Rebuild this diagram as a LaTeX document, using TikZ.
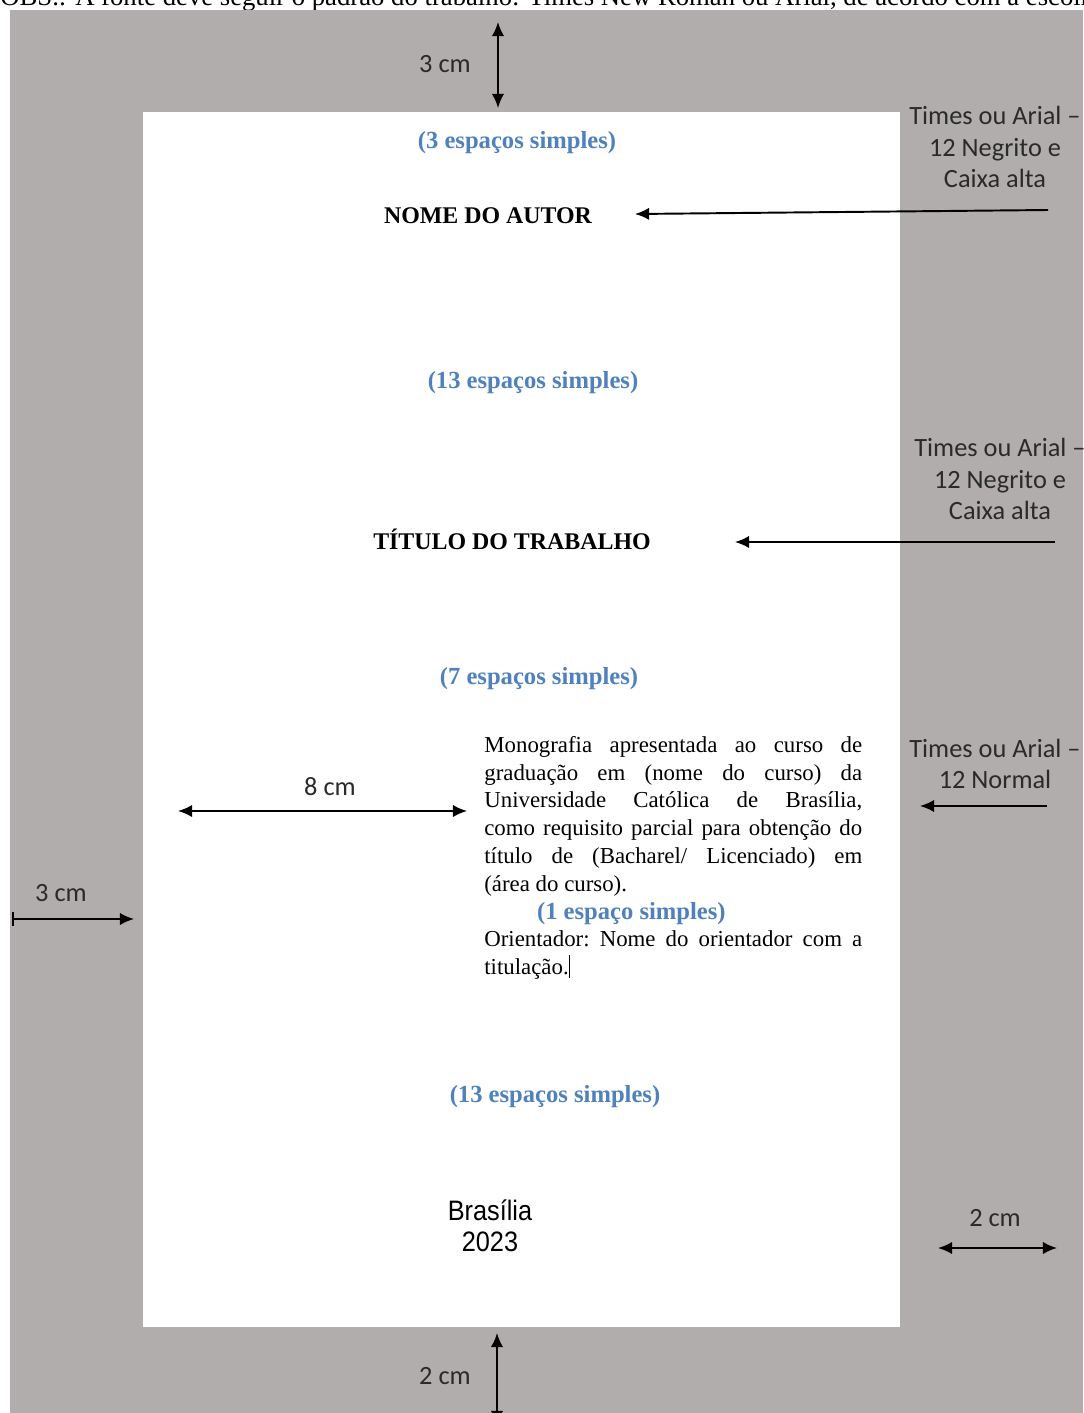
\documentclass[tikz,border=0pt]{standalone}
\usepackage{fontspec}
\setmainfont{Liberation Serif}
\newfontfamily\calfont{Carlito}
\newfontfamily\narrowfont[FakeStretch=0.9]{Liberation Sans}
\usetikzlibrary{arrows.meta}
\definecolor{margem}{HTML}{B0ADAC}
\definecolor{espaco}{HTML}{4F81BD}
\definecolor{rotulo}{HTML}{2A2A2A}
\tikzstyle{medida} = [font=\calfont\fontsize{15}{18.1}\selectfont, text=rotulo, align=center, inner sep=0pt]
\tikzstyle{espacos} = [font=\bfseries\fontsize{14}{15}\selectfont, text=espaco, inner sep=0pt]
\tikzstyle{titulo} = [font=\bfseries\fontsize{13.6}{15}\selectfont, inner sep=0pt]
\tikzstyle{seta} = [line width=1.1pt, -{Latex[length=8pt,width=7pt]}]
\tikzstyle{cota} = [line width=1.1pt, {Latex[length=8pt,width=7pt]}-{Latex[length=8pt,width=7pt]}]
\newcommand{\esp}[1]{\textcolor{espaco}{\fontsize{14}{15.8}\selectfont\textbf{(#1)}}}

\begin{document}
\begin{tikzpicture}[x=0.02cm, y=-0.02cm]
  \useasboundingbox (0,0) rectangle (1083,1413);
  \fill[white] (0,0) rectangle (1083,1413);
  \node[anchor=base west, inner sep=0pt, font=\fontsize{15.2}{16}\selectfont] (obs) at (0,6)
    {OBS.: A fonte deve seguir o padrão do trabalho: Times New Roman ou Arial, de acordo com a escolha};
  \fill[margem] (10,10) rectangle (1083,1413);
  \fill[white] (143,112) rectangle (900,1327);
  % margens
  \coordinate (sup1) at (498,22);
  \coordinate (sup2) at (498,108);
  \draw[cota] (sup1) -- (sup2);
  \node[medida] (msup) at (445,64) {3 cm};
  \coordinate (esq1) at (12,919);
  \coordinate (esq2) at (134,919);
  \draw[line width=1.1pt, {Bar[width=8pt]}-{Latex[length=8pt,width=7pt]}] (esq1) -- (esq2);
  \node[medida] (mesq) at (61,893) {3 cm};
  \coordinate (dir1) at (938,1248);
  \coordinate (dir2) at (1057,1248);
  \draw[cota] (dir1) -- (dir2);
  \node[medida] (mdir) at (995,1218) {2 cm};
  \coordinate (inf1) at (497,1333);
  \coordinate (inf2) at (497,1425);
  \draw[cota] (inf1) -- (inf2);
  \node[medida] (minf) at (445,1376) {2 cm};
  % texto da folha
  \node[espacos] (esp3) at (517,143) {(3 espaços simples)};
  \node[titulo] (autor) at (488,216) {NOME DO AUTOR};
  \node[espacos] (esp13a) at (533,383) {(13 espaços simples)};
  \node[titulo] (trabalho) at (512,539) {TÍTULO DO TRABALHO};
  \node[espacos] (esp7) at (539,679) {(7 espaços simples)};
  \node[anchor=north west, inner sep=0pt, text width=7.56cm, align=justify,
        font=\fontsize{13}{15.8}\selectfont] (resumo) at (484,736)
    {\hyphenpenalty=10000 \tolerance=9999 \frenchspacing
     Monografia apresentada ao curso de\linebreak
     graduação em (nome do curso) da\linebreak
     Universidade Católica de Brasília,\linebreak
     como requisito parcial para obtenção do\linebreak
     título de (Bacharel/ Licenciado) em\linebreak
     (área do curso).\par
     \hspace*{30pt}\esp{1 espaço simples}\par
     Orientador: Nome do orientador com a\linebreak
     titulação.\rule[-2pt]{0.7pt}{13pt}\par};
  \node[espacos] (esp13b) at (555,1097) {(13 espaços simples)};
  \node[align=center, inner sep=0pt, font=\narrowfont\fontsize{16}{17.6}\selectfont] (local) at (490,1226)
    {Brasília\\2023};
  % indicacoes
  \node[medida] (nota1) at (995,147) {Times ou Arial –\\12 Negrito e\\Caixa alta};
  \coordinate (n1a) at (1048,210);
  \coordinate (n1b) at (635,214);
  \draw[seta] (n1a) -- (n1b);
  \node[medida] (nota2) at (1000,479) {Times ou Arial –\\12 Negrito e\\Caixa alta};
  \coordinate (n2a) at (1055,542);
  \coordinate (n2b) at (735,542);
  \draw[seta] (n2a) -- (n2b);
  \node[medida] (nota3) at (995,764) {Times ou Arial –\\12 Normal};
  \coordinate (n3a) at (1047,806);
  \coordinate (n3b) at (920,806);
  \draw[seta] (n3a) -- (n3b);
  \coordinate (larg1) at (178,811);
  \coordinate (larg2) at (467,811);
  \draw[cota] (larg1) -- (larg2);
  \node[medida] (mlarg) at (330,787) {8 cm};
\end{tikzpicture}
\end{document}
